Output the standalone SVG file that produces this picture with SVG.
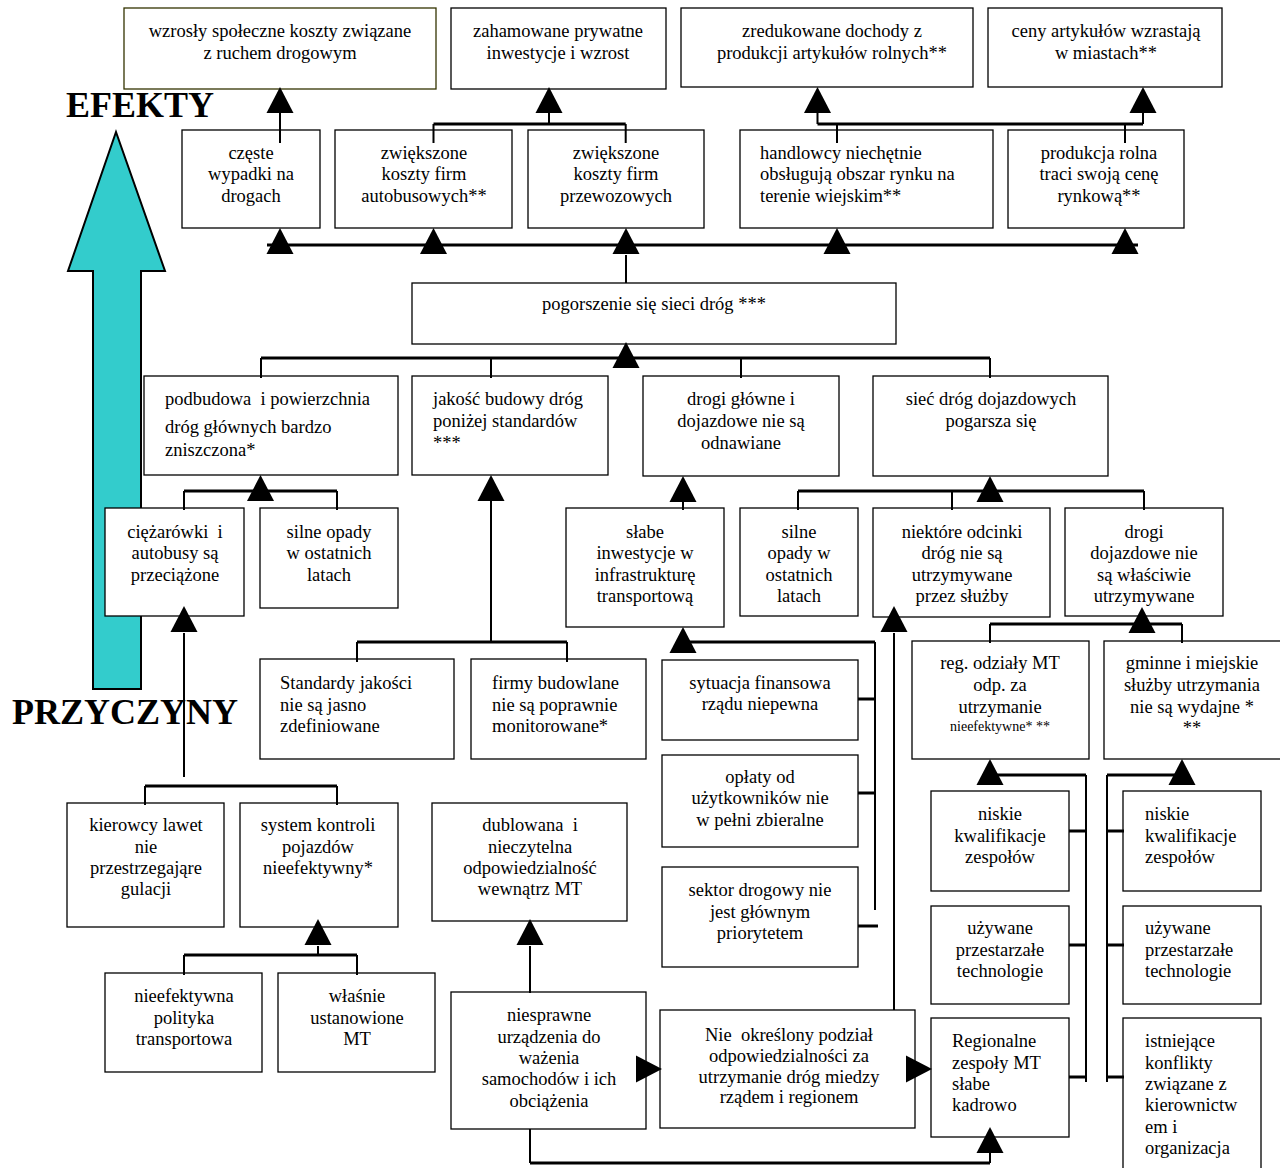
<svg xmlns="http://www.w3.org/2000/svg" width="1280" height="1168" viewBox="0 0 1280 1168">
  <style>
    .box { fill: #fff; stroke: #000; stroke-width: 1.3; }
    .t { font-family: "Liberation Serif", "Times New Roman", serif; font-size: 18.5px; fill: #000; text-anchor: middle; }
    .l { text-anchor: start; }
    .sm { font-size: 14px; }
    .big { font-family: "Liberation Serif", "Times New Roman", serif; font-size: 36px; font-weight: bold; fill: #000; }
    .v { stroke: #000; stroke-width: 2; fill: none; }
    .h { stroke: #000; stroke-width: 3; fill: none; }
    .head { fill: #000; }
  </style>
  <defs>
    <path id="tri-up" d="M0,0 L13.5,26 L-13.5,26 Z" class="head"/>
    <path id="tri-right" d="M0,0 L-26,-13.5 L-26,13.5 Z" class="head"/>
  </defs>
  <rect width="1280" height="1168" fill="#fff"/>

  <!-- direction arrow: causes (bottom) to effects (top) -->
  <g id="direction">
    <polygon points="116,132 165,271 141,271 141,689 93,689 93,271 68,271" fill="#33cccc" stroke="#000" stroke-width="2"/>
    <text class="big" x="66" y="117">EFEKTY</text>
    <text class="big" x="12" y="724">PRZYCZYNY</text>
  </g>

  <!-- effects, top row -->
  <g id="n-koszty-spoleczne">
    <rect class="box" x="124" y="8" width="312" height="81" style="stroke:#333300"/>
    <text class="t"><tspan x="280" y="37">wzrosły społeczne koszty związane</tspan><tspan x="280" y="59">z ruchem drogowym</tspan></text>
  </g>
  <g id="n-inwestycje">
    <rect class="box" x="451" y="8" width="215" height="81"/>
    <text class="t"><tspan x="558" y="37">zahamowane prywatne</tspan><tspan x="558" y="59">inwestycje i wzrost</tspan></text>
  </g>
  <g id="n-dochody">
    <rect class="box" x="681" y="8" width="292" height="79"/>
    <text class="t"><tspan x="832" y="37">zredukowane dochody z</tspan><tspan x="832" y="59">produkcji artykułów rolnych**</tspan></text>
  </g>
  <g id="n-ceny">
    <rect class="box" x="988" y="8" width="234" height="79"/>
    <text class="t"><tspan x="1106" y="37">ceny artykułów wzrastają</tspan><tspan x="1106" y="59">w miastach**</tspan></text>
  </g>

  <!-- effects, second row -->
  <g id="n-wypadki">
    <rect class="box" x="182" y="130" width="138" height="98"/>
    <text class="t"><tspan x="251" y="159">częste</tspan><tspan x="251" y="180">wypadki na</tspan><tspan x="251" y="202">drogach</tspan></text>
  </g>
  <g id="n-koszty-autobus">
    <rect class="box" x="335" y="130" width="177" height="98"/>
    <text class="t"><tspan x="424" y="159">zwiększone</tspan><tspan x="424" y="180">koszty firm</tspan><tspan x="424" y="202">autobusowych**</tspan></text>
  </g>
  <g id="n-koszty-przewoz">
    <rect class="box" x="528" y="130" width="176" height="98"/>
    <text class="t"><tspan x="616" y="159">zwiększone</tspan><tspan x="616" y="180">koszty firm</tspan><tspan x="616" y="202">przewozowych</tspan></text>
  </g>
  <g id="n-handlowcy">
    <rect class="box" x="740" y="130" width="253" height="98"/>
    <text class="t l"><tspan x="760" y="159">handlowcy niechętnie</tspan><tspan x="760" y="180">obsługują obszar rynku na</tspan><tspan x="760" y="202">terenie wiejskim**</tspan></text>
  </g>
  <g id="n-produkcja">
    <rect class="box" x="1008" y="130" width="176" height="98"/>
    <text class="t"><tspan x="1099" y="159">produkcja rolna</tspan><tspan x="1099" y="180">traci swoją cenę</tspan><tspan x="1099" y="202">rynkową**</tspan></text>
  </g>

  <!-- core problem -->
  <g id="n-pogorszenie">
    <rect class="box" x="412" y="283" width="484" height="61"/>
    <text class="t" x="654" y="310">pogorszenie się sieci dróg ***</text>
  </g>

  <!-- direct causes -->
  <g id="n-podbudowa">
    <rect class="box" x="144" y="376" width="254" height="99"/>
    <text class="t l" xml:space="preserve"><tspan x="165" y="405">podbudowa  i powierzchnia</tspan><tspan x="165" y="433">dróg głównych bardzo</tspan><tspan x="165" y="456">zniszczona*</tspan></text>
  </g>
  <g id="n-jakosc">
    <rect class="box" x="412" y="376" width="196" height="99"/>
    <text class="t l"><tspan x="433" y="405">jakość budowy dróg</tspan><tspan x="433" y="427">poniżej standardów</tspan><tspan x="433" y="449">***</tspan></text>
  </g>
  <g id="n-drogi-glowne">
    <rect class="box" x="643" y="376" width="196" height="100"/>
    <text class="t"><tspan x="741" y="405">drogi główne i</tspan><tspan x="741" y="427">dojazdowe nie są</tspan><tspan x="741" y="449">odnawiane</tspan></text>
  </g>
  <g id="n-siec-dojazd">
    <rect class="box" x="873" y="376" width="235" height="100"/>
    <text class="t"><tspan x="991" y="405">sieć dróg dojazdowych</tspan><tspan x="991" y="427">pogarsza się</tspan></text>
  </g>

  <!-- second-level causes -->
  <g id="n-ciezarowki">
    <rect class="box" x="105" y="508" width="139" height="108"/>
    <text class="t" xml:space="preserve"><tspan x="175" y="538">ciężarówki  i</tspan><tspan x="175" y="559">autobusy są</tspan><tspan x="175" y="581">przeciążone</tspan></text>
  </g>
  <g id="n-opady1">
    <rect class="box" x="260" y="508" width="138" height="100"/>
    <text class="t"><tspan x="329" y="538">silne opady</tspan><tspan x="329" y="559">w ostatnich</tspan><tspan x="329" y="581">latach</tspan></text>
  </g>
  <g id="n-slabe-inw">
    <rect class="box" x="566" y="508" width="158" height="119"/>
    <text class="t"><tspan x="645" y="538">słabe</tspan><tspan x="645" y="559">inwestycje w</tspan><tspan x="645" y="581">infrastrukturę</tspan><tspan x="645" y="602">transportową</tspan></text>
  </g>
  <g id="n-opady2">
    <rect class="box" x="740" y="508" width="118" height="108"/>
    <text class="t"><tspan x="799" y="538">silne</tspan><tspan x="799" y="559">opady w</tspan><tspan x="799" y="581">ostatnich</tspan><tspan x="799" y="602">latach</tspan></text>
  </g>
  <g id="n-odcinki">
    <rect class="box" x="873" y="508" width="177" height="109"/>
    <text class="t"><tspan x="962" y="538">niektóre odcinki</tspan><tspan x="962" y="559">dróg nie są</tspan><tspan x="962" y="581">utrzymywane</tspan><tspan x="962" y="602">przez służby</tspan></text>
  </g>
  <g id="n-dojazd-utrzym">
    <rect class="box" x="1065" y="508" width="158" height="108"/>
    <text class="t"><tspan x="1144" y="538">drogi</tspan><tspan x="1144" y="559">dojazdowe nie</tspan><tspan x="1144" y="581">są właściwie</tspan><tspan x="1144" y="602">utrzymywane</tspan></text>
  </g>

  <!-- third-level causes -->
  <g id="n-standardy">
    <rect class="box" x="260" y="659" width="194" height="100"/>
    <text class="t l"><tspan x="280" y="689">Standardy jakości</tspan><tspan x="280" y="711">nie są jasno</tspan><tspan x="280" y="732">zdefiniowane</tspan></text>
  </g>
  <g id="n-firmy">
    <rect class="box" x="471" y="659" width="175" height="100"/>
    <text class="t l"><tspan x="492" y="689">firmy budowlane</tspan><tspan x="492" y="711">nie są poprawnie</tspan><tspan x="492" y="732">monitorowane*</tspan></text>
  </g>
  <g id="n-sytuacja">
    <rect class="box" x="662" y="660" width="196" height="80"/>
    <text class="t"><tspan x="760" y="689">sytuacja finansowa</tspan><tspan x="760" y="710">rządu niepewna</tspan></text>
  </g>
  <g id="n-oplaty">
    <rect class="box" x="662" y="755" width="196" height="92"/>
    <text class="t"><tspan x="760" y="783">opłaty od</tspan><tspan x="760" y="804">użytkowników nie</tspan><tspan x="760" y="826">w pełni zbieralne</tspan></text>
  </g>
  <g id="n-sektor">
    <rect class="box" x="662" y="867" width="196" height="100"/>
    <text class="t"><tspan x="760" y="896">sektor drogowy nie</tspan><tspan x="760" y="918">jest głównym</tspan><tspan x="760" y="939">priorytetem</tspan></text>
  </g>
  <g id="n-reg">
    <rect class="box" x="912" y="641" width="177" height="118"/>
    <text class="t"><tspan x="1000" y="669">reg. odziały MT</tspan><tspan x="1000" y="691">odp. za</tspan><tspan x="1000" y="713">utrzymanie</tspan><tspan x="1000" y="731" class="sm">nieefektywne* **</tspan></text>
  </g>
  <g id="n-gminne">
    <rect class="box" x="1104" y="641" width="190" height="118"/>
    <text class="t"><tspan x="1192" y="669">gminne i miejskie</tspan><tspan x="1192" y="691">służby utrzymania</tspan><tspan x="1192" y="713">nie są wydajne *</tspan><tspan x="1192" y="734">**</tspan></text>
  </g>

  <!-- root causes -->
  <g id="n-kierowcy">
    <rect class="box" x="67" y="803" width="157" height="124"/>
    <text class="t"><tspan x="146" y="831">kierowcy lawet</tspan><tspan x="146" y="853">nie</tspan><tspan x="146" y="874">przestrzegająre</tspan><tspan x="146" y="895">gulacji</tspan></text>
  </g>
  <g id="n-system">
    <rect class="box" x="240" y="803" width="158" height="124"/>
    <text class="t"><tspan x="318" y="831">system kontroli</tspan><tspan x="318" y="853">pojazdów</tspan><tspan x="318" y="874">nieefektywny*</tspan></text>
  </g>
  <g id="n-dublowana">
    <rect class="box" x="432" y="803" width="195" height="118"/>
    <text class="t" xml:space="preserve"><tspan x="530" y="831">dublowana  i</tspan><tspan x="530" y="853">nieczytelna</tspan><tspan x="530" y="874">odpowiedzialność</tspan><tspan x="530" y="895">wewnątrz MT</tspan></text>
  </g>
  <g id="n-polityka">
    <rect class="box" x="105" y="973" width="157" height="99"/>
    <text class="t"><tspan x="184" y="1002">nieefektywna</tspan><tspan x="184" y="1024">polityka</tspan><tspan x="184" y="1045">transportowa</tspan></text>
  </g>
  <g id="n-mt">
    <rect class="box" x="278" y="973" width="157" height="99"/>
    <text class="t"><tspan x="357" y="1002">właśnie</tspan><tspan x="357" y="1024">ustanowione</tspan><tspan x="357" y="1045">MT</tspan></text>
  </g>
  <g id="n-niesprawne">
    <rect class="box" x="451" y="992" width="195" height="137"/>
    <text class="t"><tspan x="549" y="1021">niesprawne</tspan><tspan x="549" y="1043">urządzenia do</tspan><tspan x="549" y="1064">ważenia</tspan><tspan x="549" y="1085">samochodów i ich</tspan><tspan x="549" y="1107">obciążenia</tspan></text>
  </g>
  <g id="n-podzial">
    <rect class="box" x="660" y="1010" width="255" height="118"/>
    <text class="t" xml:space="preserve"><tspan x="789" y="1041">Nie  określony podział</tspan><tspan x="789" y="1062">odpowiedzialności za</tspan><tspan x="789" y="1083">utrzymanie dróg miedzy</tspan><tspan x="789" y="1103">rządem i regionem</tspan></text>
  </g>
  <g id="n-niskie1">
    <rect class="box" x="931" y="791" width="138" height="100"/>
    <text class="t"><tspan x="1000" y="820">niskie</tspan><tspan x="1000" y="842">kwalifikacje</tspan><tspan x="1000" y="863">zespołów</tspan></text>
  </g>
  <g id="n-uzywane1">
    <rect class="box" x="931" y="906" width="138" height="98"/>
    <text class="t"><tspan x="1000" y="934">używane</tspan><tspan x="1000" y="956">przestarzałe</tspan><tspan x="1000" y="977">technologie</tspan></text>
  </g>
  <g id="n-regionalne">
    <rect class="box" x="931" y="1018" width="138" height="119"/>
    <text class="t l"><tspan x="952" y="1047">Regionalne</tspan><tspan x="952" y="1069">zespoły MT</tspan><tspan x="952" y="1090">słabe</tspan><tspan x="952" y="1111">kadrowo</tspan></text>
  </g>
  <g id="n-niskie2">
    <rect class="box" x="1123" y="791" width="138" height="100"/>
    <text class="t l"><tspan x="1145" y="820">niskie</tspan><tspan x="1145" y="842">kwalifikacje</tspan><tspan x="1145" y="863">zespołów</tspan></text>
  </g>
  <g id="n-uzywane2">
    <rect class="box" x="1123" y="906" width="138" height="98"/>
    <text class="t l"><tspan x="1145" y="934">używane</tspan><tspan x="1145" y="956">przestarzałe</tspan><tspan x="1145" y="977">technologie</tspan></text>
  </g>
  <g id="n-konflikty">
    <rect class="box" x="1123" y="1018" width="138" height="170"/>
    <text class="t l"><tspan x="1145" y="1047">istniejące</tspan><tspan x="1145" y="1069">konflikty</tspan><tspan x="1145" y="1090">związane z</tspan><tspan x="1145" y="1111">kierownictw</tspan><tspan x="1145" y="1133">em i</tspan><tspan x="1145" y="1154">organizacja</tspan></text>
  </g>

  <!-- connectors -->
  <g id="connectors">
    <!-- second row to top row -->
    <path class="v" d="M280,113 V143"/>
    <path class="v" d="M549,113 V124 M433.5,124 V143 M625.7,124 V143"/>
    <path class="h" d="M433.5,124 H625.7"/>
    <path class="v" d="M817.5,113 V124 M1143,113 V124 M837,124 V143 M1125,124 V143"/>
    <path class="h" d="M817.5,124 H1143"/>
    <use href="#tri-up" x="280" y="87"/>
    <use href="#tri-up" x="549" y="87"/>
    <use href="#tri-up" x="817.5" y="87"/>
    <use href="#tri-up" x="1143" y="87"/>

    <!-- core problem to effects -->
    <path class="h" d="M267,245 H1138"/>
    <path class="v" d="M626,255 V283"/>
    <use href="#tri-up" x="280" y="228"/>
    <use href="#tri-up" x="433.5" y="228"/>
    <use href="#tri-up" x="626" y="228"/>
    <use href="#tri-up" x="837" y="228"/>
    <use href="#tri-up" x="1125" y="228"/>

    <!-- direct causes to core problem -->
    <path class="h" d="M261,358 H990"/>
    <path class="v" d="M261,358 V378 M491,358 V378 M741,358 V378 M990,358 V378"/>
    <use href="#tri-up" x="626" y="342"/>

    <!-- into podbudowa -->
    <path class="h" d="M184,491 H337"/>
    <path class="v" d="M184,491 V510 M337,491 V510"/>
    <use href="#tri-up" x="260.5" y="475"/>

    <!-- into jakosc -->
    <path class="v" d="M491,499 V643 M357,642 V662 M567,642 V662"/>
    <path class="h" d="M357,642 H567"/>
    <use href="#tri-up" x="491" y="475"/>

    <!-- into drogi glowne -->
    <path class="v" d="M683,500 V510"/>
    <use href="#tri-up" x="683" y="476"/>

    <!-- into siec drog dojazdowych -->
    <path class="h" d="M798,491 H1144"/>
    <path class="v" d="M798,491 V510 M952,491 V510 M1144,491 V510"/>
    <use href="#tri-up" x="990" y="476"/>

    <!-- into slabe inwestycje -->
    <path class="h" d="M683,642 H875"/>
    <path class="v" d="M875,642 V910"/>
    <path class="h" d="M858,699 H875 M858,793 H875 M858,926 H878"/>
    <use href="#tri-up" x="683" y="627"/>

    <!-- into niektore odcinki -->
    <path class="v" d="M894,633 V1010"/>
    <use href="#tri-up" x="894" y="606"/>

    <!-- into drogi dojazdowe -->
    <path class="h" d="M990,624 H1182"/>
    <path class="v" d="M990,624 V643 M1182,624 V643"/>
    <use href="#tri-up" x="1142" y="607"/>

    <!-- into reg. odzialy -->
    <path class="h" d="M990,775 H1086"/>
    <path class="v" d="M1086,775 V1082"/>
    <path class="h" d="M1069,831 H1086 M1069,945 H1086 M1069,1077 H1086"/>
    <use href="#tri-up" x="990" y="759"/>

    <!-- into gminne -->
    <path class="h" d="M1107,775 H1182"/>
    <path class="v" d="M1107,775 V1082"/>
    <path class="h" d="M1107,831 H1124 M1107,945 H1124 M1107,1077 H1124"/>
    <use href="#tri-up" x="1182" y="759"/>

    <!-- into ciezarowki -->
    <path class="v" d="M184,633 V777"/>
    <path class="h" d="M145,786 H337"/>
    <path class="v" d="M145,786 V805 M337,786 V805"/>
    <use href="#tri-up" x="184" y="606"/>

    <!-- into system kontroli -->
    <path class="v" d="M318,946 V955 M184,955 V975 M357,955 V975"/>
    <path class="h" d="M184,955 H357"/>
    <use href="#tri-up" x="318" y="919"/>

    <!-- into dublowana -->
    <path class="v" d="M530,946 V993"/>
    <use href="#tri-up" x="530" y="919"/>

    <!-- niesprawne to podzial to regionalne -->
    <use href="#tri-right" x="662" y="1069"/>
    <use href="#tri-right" x="932" y="1069"/>
    <path class="v" d="M530,1129 V1163 M990,1163 V1153"/>
    <path class="h" d="M530,1163 H990"/>
    <use href="#tri-up" x="990" y="1127"/>
  </g>
</svg>
